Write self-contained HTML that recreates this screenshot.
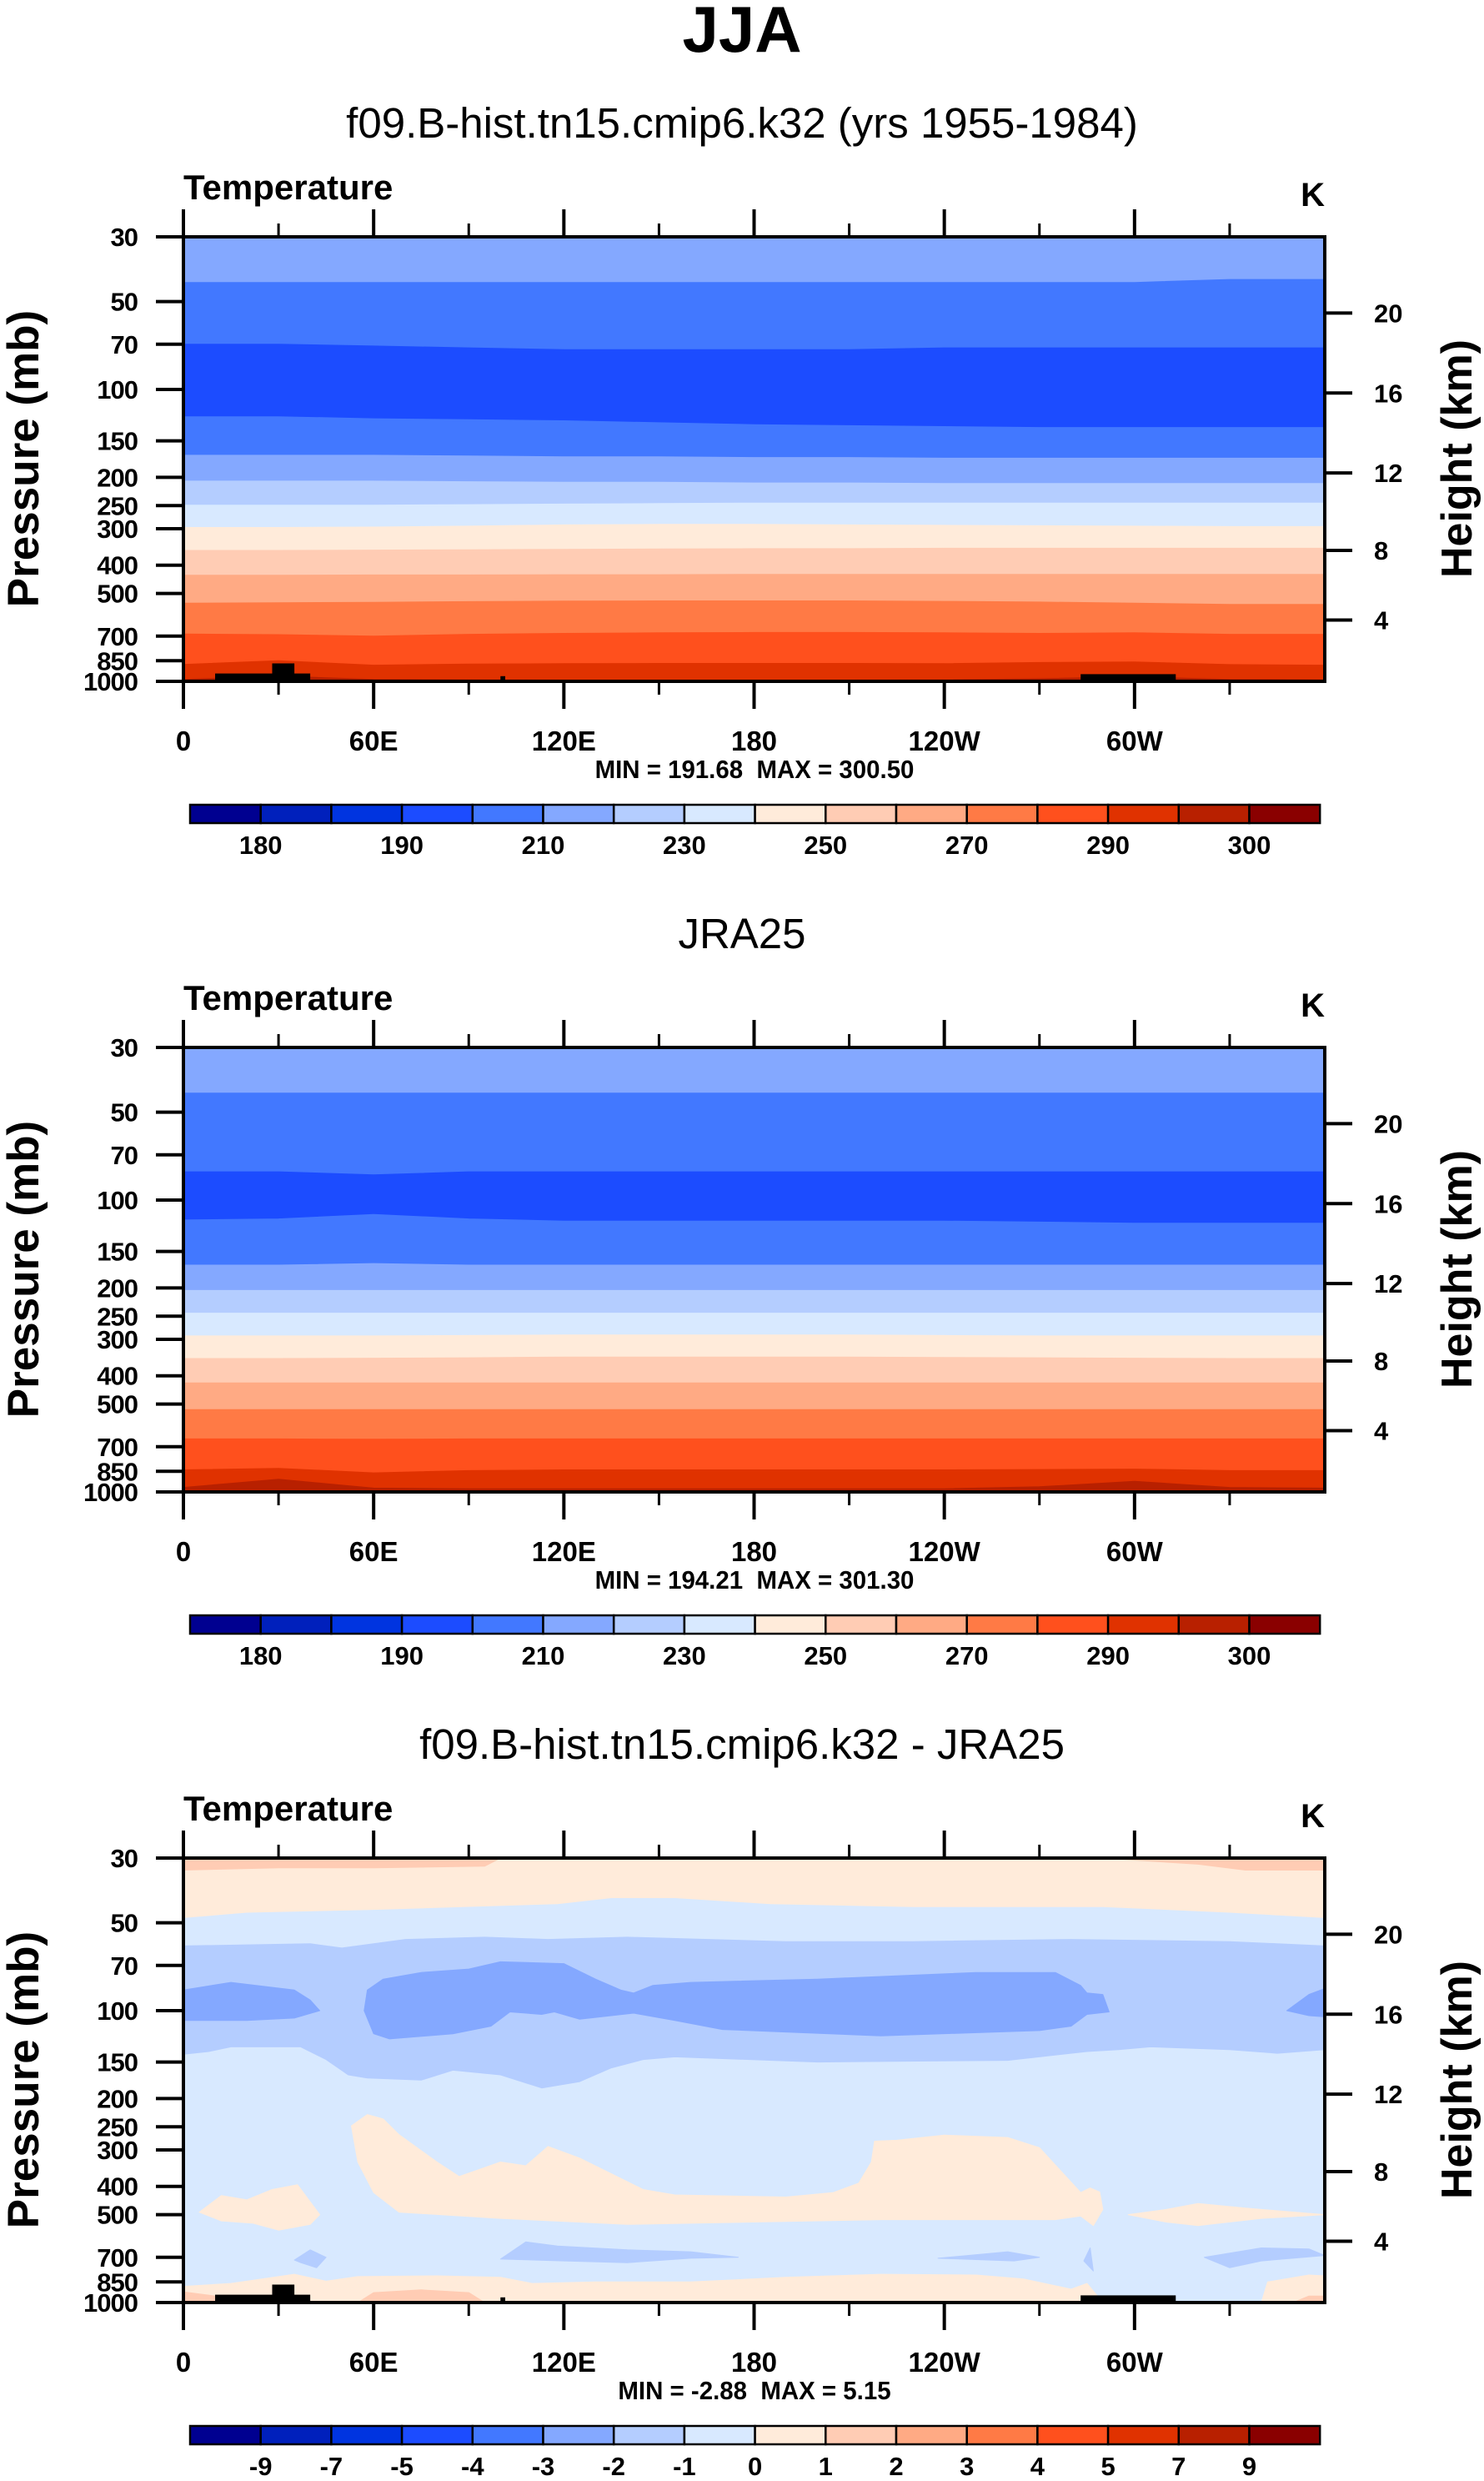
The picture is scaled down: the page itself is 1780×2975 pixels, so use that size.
<!DOCTYPE html>
<html><head><meta charset="utf-8"><style>
html,body{margin:0;padding:0;background:#fff;}
svg{display:block;}
text{font-family:"Liberation Sans",sans-serif;fill:#000;white-space:pre;}
</style></head><body>
<svg id="fig" xmlns="http://www.w3.org/2000/svg" width="1780" height="2975" viewBox="0 0 1780 2975">
<text x="890" y="62" text-anchor="middle" font-size="78" font-weight="bold">JJA</text>
</svg>
<script>
// ---------- data ----------
const colors = ['#000090','#0020bc','#0034e0','#1c4cff','#4278ff','#84a8ff','#b4cdff','#d8e9ff','#ffebda','#ffccb4','#ffaa84','#ff7a45','#ff501d','#e03200','#b82000','#8a0000'];
const cbLabelsAbs = ['180','','190','','210','','230','','250','','270','','290','','300'];
const cbLabelsDiff = ['-9','-7','-5','-4','-3','-2','-1','0','1','2','3','4','5','7','9'];
const pTicks = [30,50,70,100,150,200,250,300,400,500,700,850,1000];
const zTicks = [4,8,12,16,20];
const lonTicks = [0,60,120,180,240,300];
const lonLabels = ['0','60E','120E','180','120W','60W'];
const bandLons = [0,30,60,90,120,150,180,210,240,270,300,330,360];
// panel 1 (model) boundaries between colour bands, pressure (mb) at bandLons
const m_b1 = [43,43,43,43,43,43,43,43,43,43,43,42,42];
const m_b2 = [70,70,71,72,73,73,73,73,72,72,72,72,72];
const m_b3 = [124,124,126,127,128,130,132,133,134,135,135,135,135];
const m_b4 = [168,168,168,169,170,170,171,171,172,172,172,172,172];
const m_b5 = [206,206,206,207,208,208,209,209,210,210,210,210,210];
const m_b6 = [249,249,249,248,247,246,245,245,245,245,245,245,245];
const m_b7 = [297,297,296,294,291,290,290,291,292,293,294,295,295];
const m_b8 = [356,356,355,354,353,352,351,351,350,350,350,350,350];
const m_b9 = [433,433,432,432,431,431,430,430,430,430,430,430,430];
const m_b10 = [540,538,536,533,531,530,530,530,532,535,540,545,545];
const m_b11 = [688,692,700,690,685,682,680,680,682,685,682,690,690];
const m_b12 = [875,850,880,872,870,868,868,868,870,862,858,876,880];
const m_b13 = [985,960,985,988,990,990,990,990,988,980,965,985,988];
const modelBounds = [m_b1,m_b2,m_b3,m_b4,m_b5,m_b6,m_b7,m_b8,m_b9,m_b10,m_b11,m_b12,m_b13];
// panel 2 (JRA25)
const r_b1 = [43,43,43,43,43,43,43,43,43,43,43,43,43];
const r_b2 = [80,80,82,80,80,80,80,80,80,80,80,80,80];
const r_b3 = [117,116,112,116,118,118,118,118,118,119,120,120,120];
const r_b4 = [167,167,165,167,167,167,167,167,167,167,167,167,167];
const r_b5 = [204,204,204,204,204,204,204,204,204,204,204,204,204];
const r_b6 = [244,244,244,244,244,244,244,244,244,244,244,244,244];
const r_b7 = [292,292,292,291,290,290,290,290,291,292,292,292,292];
const r_b8 = [349,349,348,347,345,345,345,345,346,347,348,349,349];
const r_b9 = [423,423,423,423,423,423,423,423,423,423,423,423,423];
const r_b10 = [522,522,522,522,522,522,522,522,522,522,522,522,522];
const r_b11 = [658,658,660,658,658,658,658,658,658,658,658,658,658];
const r_b12 = [840,830,860,845,840,840,840,840,840,838,835,845,845];
const r_b13 = [965,905,970,975,975,975,975,975,975,960,920,965,970];
const jraBounds = [r_b1,r_b2,r_b3,r_b4,r_b5,r_b6,r_b7,r_b8,r_b9,r_b10,r_b11,r_b12,r_b13];
const modelColorIdx = [5,4,3,4,5,6,7,8,9,10,11,12,13,14];
const jraColorIdx = [5,4,3,4,5,6,7,8,9,10,11,12,13,14];
// panel 3 (difference) regions: [lon, pressure] vertices
const dTopPos = [[0,30],[0,48],[20,46],[60,45],[118,43],[135,41],[155,41],[185,43],[230,44],[290,44],[330,46],[360,48],[360,30]];
const dTopPos2L = [[0,30],[0,33],[30,32.4],[60,32.4],[95,32],[100,30]];
const dTopPos2R = [[290,30],[320,31.5],[335,33],[360,33],[360,30]];
const dNegBand = [[0,60],[40,59],[50,61],[70,57],[95,56],[115,57],[140,56],[190,58],[230,58],[280,57],[330,58],[360,60],
  [360,136],[345,140],[330,136],[305,133],[295,136],[285,138],[260,148],[200,150],[155,144],[145,147],[135,157],[125,175],[113,184],[100,166],[85,160],[75,173],[58,170],[52,166],[45,147],[37,133],[15,133],[8,138],[0,141]];
const dNeg2A = [[0,85],[15,80],[35,85],[40,92],[43,100],[35,106],[20,108],[0,108]];
const dNeg2B = [[57,100],[58,85],[63,78],[75,74],[90,72],[100,68],[120,69],[130,78],[138,85],[142,87],[148,82],[160,80],[200,78],[250,74],[275,74],[283,82],[285,87],[290,88],[292,101],[285,103],[280,113],[270,117],[220,122],[170,116],[155,108],[142,102],[125,107],[117,101],[113,103],[103,101],[97,113],[85,120],[65,125],[60,120]];
const dNeg2C = [[348,100],[355,88],[360,84],[360,105],[355,104]];
const dPosMid = [[53,248],[58,227],[63,235],[68,266],[80,330],[87,370],[95,345],[100,330],[108,340],[115,292],[125,320],[145,410],[155,428],[190,435],[205,420],[213,390],[217,330],[218,280],[225,278],[240,267],[260,272],[270,295],[283,420],[286,405],[289,418],[290,480],[287,545],[283,505],[275,520],[220,520],[140,540],[100,515],[68,490],[60,420],[55,330]];
const dPosL = [[5,490],[12,430],[20,445],[28,410],[36,395],[43,500],[40,540],[30,565],[22,535],[12,525]];
const dPosR = [[298,500],[310,480],[320,458],[335,475],[360,500],[340,515],[320,545],[310,530]];
const dNegLow1 = [[35,715],[40,660],[45,700],[42,760],[37,730]];
const dNegLow2 = [[100,710],[108,620],[118,640],[140,660],[160,670],[175,700],[160,705],[140,730],[120,720]];
const dNegLow3 = [[238,705],[260,670],[270,700],[262,720]];
const dNegLow4 = [[284,720],[286,650],[287,780]];
const dNegLow5 = [[322,700],[340,650],[355,655],[360,690],[340,720],[330,760]];
const dPosBot = [[0,1000],[0,880],[15,860],[35,800],[45,845],[55,815],[80,810],[100,820],[110,860],[130,850],[160,850],[190,820],[220,800],[250,805],[265,830],[280,900],[285,860],[290,1000]];
const dPosBot2 = [[340,1000],[342,850],[355,805],[360,810],[360,1000]];
const dPos2Bot1 = [[0,1000],[0,920],[10,950],[15,1000]];
const dPos2Bot2 = [[55,1000],[60,925],[75,905],[90,925],[95,1000]];
const dPos2Bot3 = [[350,1000],[355,950],[360,950],[360,1000]];
const diffRegions = [[dTopPos,8],[dTopPos2L,9],[dTopPos2R,9],[dNegBand,6],[dNeg2A,5],[dNeg2B,5],[dNeg2C,5],[dPosMid,8],[dPosL,8],[dPosR,8],[dNegLow1,6],[dNegLow2,6],[dNegLow3,6],[dNegLow4,6],[dNegLow5,6],[dPosBot,8],[dPosBot2,8],[dPos2Bot1,9],[dPos2Bot2,9],[dPos2Bot3,9]];
// topography: [lon0, lon1, topPressure]
const topoBlocks = [[10,40,940],[28,35,868],[100,101.5,960],[283,313,945]];
const titles = ['f09.B-hist.tn15.cmip6.k32 (yrs 1955-1984)','JRA25','f09.B-hist.tn15.cmip6.k32 - JRA25'];
const minmax = ['MIN = 191.68  MAX = 300.50','MIN = 194.21  MAX = 301.30','MIN = -2.88  MAX = 5.15'];

// ---------- drawing ----------
const NS='http://www.w3.org/2000/svg';
const svg=document.getElementById('fig');
const X0=220, W=1369, H=533, PANEL_DY=972, TOP0=284;
function el(tag,attrs,parent){const e=document.createElementNS(NS,tag);for(const k in attrs)e.setAttribute(k,attrs[k]);(parent||svg).appendChild(e);return e;}
function xOf(lon){return X0+lon/360*W;}
function yOf(p,top){return top+(Math.log10(p)-Math.log10(30))/(Math.log10(1000)-Math.log10(30))*H;}
function pOfZ(zkm){const z=zkm*1000;if(z<=11000)return 1013.25*Math.pow(1-2.25577e-5*z,5.2559);return 226.32*Math.exp(-(z-11000)/6341.6);}
function polyPts(pts,top){return pts.map(d=>xOf(d[0]).toFixed(1)+','+yOf(d[1],top).toFixed(1)).join(' ');}

function drawPanel(i){
  const top=TOP0+i*PANEL_DY;
  const g=el('g',{});
  
  
  const clipId='clip'+i;
  const cp=el('clipPath',{id:clipId},g);
  el('rect',{x:X0,y:top,width:W,height:H},cp);
  const plot=el('g',{'clip-path':'url(#'+clipId+')'},g);
  
  
  if(i<2){
    const bounds=i===0?modelBounds:jraBounds;
    const cidx=i===0?modelColorIdx:jraColorIdx;
    for(let b=0;b<=bounds.length;b++){
      const upper=b===0?bandLons.map(()=>30):bounds[b-1];
      const lower=b===bounds.length?bandLons.map(()=>1000):bounds[b];
      const pts=bandLons.map((l,k)=>[l,upper[k]]).concat(bandLons.map((l,k)=>[l,lower[k]]).reverse());
      const pg=el('polygon',{points:polyPts(pts,top),fill:colors[cidx[b]],stroke:colors[cidx[b]],'stroke-width':1},plot);
      
      
    }
  } else {
    const bg=el('rect',{x:X0,y:top,width:W,height:H,fill:colors[7]},plot);
    
    
    diffRegions.forEach(r=>{
      const pg=el('polygon',{points:polyPts(r[0],top),fill:colors[r[1]],stroke:colors[r[1]],'stroke-width':1,'stroke-linejoin':'round'},plot);
      
      
    });
  }
  if(i!==1){
    topoBlocks.forEach(t=>{
      const r=el('rect',{x:xOf(t[0]),y:yOf(t[2],top),width:xOf(t[1])-xOf(t[0]),height:top+H-yOf(t[2],top),fill:'#000'},plot);
      
      
    });
  }
  const fr=el('rect',{x:X0,y:top,width:W,height:H,fill:'none',stroke:'#000','stroke-width':4},g);
  
  
  for(let lon=0;lon<=330;lon+=30){
    const major=lon%60===0, len=major?33:16, x=xOf(lon);
    el('line',{x1:x,x2:x,y1:top,y2:top-len,stroke:'#000','stroke-width':major?4:3},g);
    el('line',{x1:x,x2:x,y1:top+H,y2:top+H+len,stroke:'#000','stroke-width':major?4:3},g);
  }
  lonTicks.forEach((lon,k)=>{
    const t=el('text',{x:xOf(lon),y:top+H+83,'text-anchor':'middle','font-size':33,'font-weight':'bold'},g);
    t.textContent=lonLabels[k];
    
    
  });
  pTicks.forEach(p=>{
    const y=yOf(p,top);
    el('line',{x1:X0-33,x2:X0,y1:y,y2:y,stroke:'#000','stroke-width':4},g);
    const t=el('text',{x:165,y:y+11,'text-anchor':'end','font-size':31,'font-weight':'bold','letter-spacing':'-1'},g);
    t.textContent=p;
    
    
  });
  zTicks.forEach(z=>{
    const y=yOf(pOfZ(z),top);
    el('line',{x1:X0+W,x2:X0+W+33,y1:y,y2:y,stroke:'#000','stroke-width':4},g);
    const t=el('text',{x:1648,y:y+11,'font-size':31,'font-weight':'bold'},g);
    t.textContent=z;
    
    
  });
  const yl=el('text',{x:0,y:0,transform:'translate(46,'+(top+266)+') rotate(-90)','text-anchor':'middle','font-size':53,'font-weight':'bold'},g);
  yl.textContent='Pressure (mb)';
  
  
  const yr=el('text',{x:0,y:0,transform:'translate(1765,'+(top+266)+') rotate(-90)','text-anchor':'middle','font-size':52,'font-weight':'bold'},g);
  yr.textContent='Height (km)';
  
  
  const st=el('text',{x:890,y:top-119,'text-anchor':'middle','font-size':51},g);
  st.textContent=titles[i];
  
  
  const lt=el('text',{x:220,y:top-45,'font-size':42,'font-weight':'bold'},g);
  lt.textContent='Temperature';
  
  
  const ut=el('text',{x:1589,y:top-37,'text-anchor':'end','font-size':40,'font-weight':'bold'},g);
  ut.textContent='K';
  
  
  const mm=el('text',{x:0,y:0,transform:'translate(905,'+(top+649)+') scale(0.95,1)','text-anchor':'middle','font-size':31,'font-weight':'bold'},g);
  mm.textContent=minmax[i];
  
  
  const cbx=228, cbw=84.7, cby=top+681, cbh=22;
  colors.forEach((c,k)=>{
    const r=el('rect',{x:cbx+k*cbw,y:cby,width:cbw,height:cbh,fill:c,stroke:'#000','stroke-width':2.5},g);
    
    
  });
  const labs=i===2?cbLabelsDiff:cbLabelsAbs;
  labs.forEach((s,k)=>{
    if(!s)return;
    const t=el('text',{x:cbx+(k+1)*cbw,y:cby+59,'text-anchor':'middle','font-size':31,'font-weight':'bold'},g);
    t.textContent=s;
    
    
  });
}
for(let i=0;i<3;i++)drawPanel(i);
</script>
</body></html>
